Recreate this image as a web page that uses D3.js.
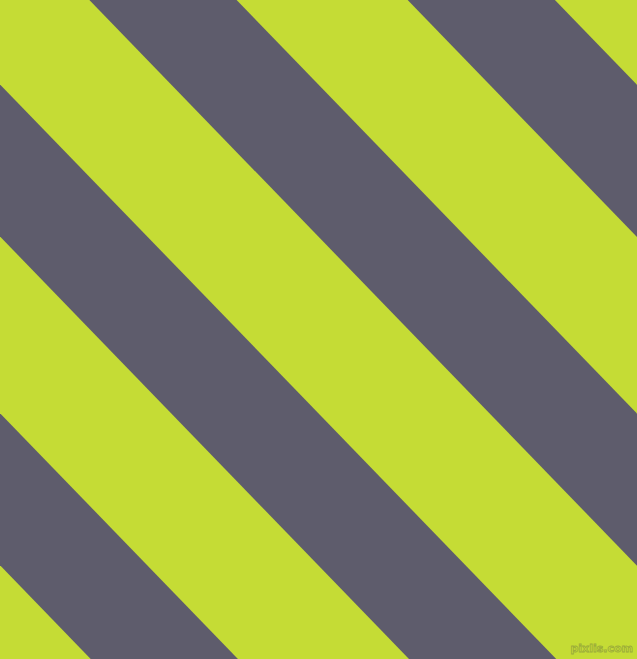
<!DOCTYPE html>
<html>
<head>
<meta charset="utf-8">
<script src="https://cdn.jsdelivr.net/npm/d3@7"></script>
<style>
html,body{margin:0;padding:0;background:#c5dc35;overflow:hidden}
svg{display:block}
</style>
</head>
<body>
<script>
// stripe data: indices of the dark stripes (relative to the one at the top-left)
const stripeIndex = [-3, -2, -1, 0, 1, 2];
const stripeKinds = ["band", "band", "band", "band", "band", "band"];
const palette = ["#c5dc35", "#5e5c6c"]; // background, stripe
const watermark = ["pixlis.com"];

const W = 637, H = 659;
const angle = -44.07;           // stripe tilt (deg)
const period = 228.7;           // perpendicular repeat distance
const bandWidth = 105.8;        // perpendicular stripe width
const offset = 64.2;            // start of stripe 0 along perpendicular axis

const svg = d3.select("body").append("svg").attr("width", W).attr("height", H);
svg.append("rect").attr("width", W).attr("height", H).attr("fill", palette[0]);

const x = d3.scaleLinear().domain([0, 1]).range([offset, offset + period]);

const g = svg.append("g").attr("transform", `rotate(${angle})`);
g.selectAll("rect.stripe")
  .data(stripeIndex)
  .join("rect")
  .attr("class", "stripe")
  .attr("x", d => x(d))
  .attr("y", -1200)
  .attr("width", bandWidth)
  .attr("height", 2400)
  .attr("fill", palette[1]);

svg.selectAll("text.wm")
  .data(watermark)
  .join("text")
  .attr("class", "wm")
  .attr("x", 633)
  .attr("y", 652)
  .attr("text-anchor", "end")
  .attr("font-family", "DejaVu Sans, sans-serif")
  .attr("font-size", 11)
  .attr("font-weight", "bold")
  .attr("fill", "#c5dc35")
  .attr("stroke", "#9aab3a")
  .attr("stroke-width", 0.8)
  .text(d => d);
</script>
</body>
</html>
